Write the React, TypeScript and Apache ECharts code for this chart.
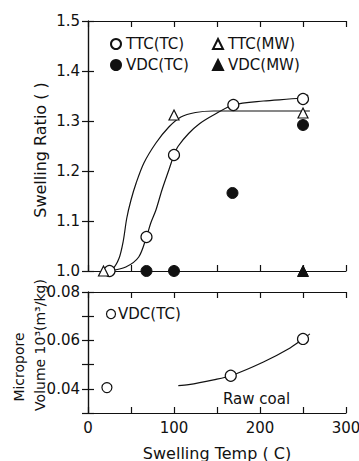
import React, { useEffect, useRef } from "react";
import * as echarts from "echarts";

// ---- data ----
const ttcTC: [number, number][] = [[25, 1.0], [68, 1.068], [100, 1.232], [169, 1.332], [250, 1.344]];
const ttcMW: [number, number][] = [[18, 1.0], [100, 1.312], [250, 1.316]];
const vdcTC: [number, number][] = [[68, 1.0], [100, 1.0], [168, 1.156], [250, 1.292]];
const vdcMW: [number, number][] = [[250, 1.0]];

const ttcMWCurve: [number, number][] = [
  [20, 1.0], [28, 1.003], [36, 1.025], [41, 1.06], [45, 1.105], [50, 1.142], [56, 1.176],
  [65, 1.216], [79, 1.256], [94, 1.288], [108, 1.308], [125, 1.317], [146, 1.32], [258, 1.32],
];
const ttcTCCurve: [number, number][] = [
  [25, 1.0], [44, 1.008], [59, 1.028], [68, 1.068], [73, 1.096], [79, 1.122], [86, 1.162],
  [94, 1.202], [100, 1.232], [105, 1.25], [117, 1.275], [130, 1.295], [146, 1.312],
  [169, 1.332], [204, 1.34], [247, 1.346], [256, 1.352],
];

const microVDC: [number, number][] = [[166, 0.0454], [250, 0.0606]];
const rawCoal: [number, number][] = [[22, 0.0405]];
const microCurve: [number, number][] = [
  [105, 0.0413], [117, 0.0417], [146, 0.0437], [166, 0.0454], [204, 0.0511], [235, 0.0569],
  [250, 0.0606], [258, 0.0627],
];

const FONT = "DejaVu Sans";
const BLACK = "#111";

export default function App() {
  const ref = useRef<HTMLDivElement>(null);
  useEffect(() => {
    if (!ref.current) return;
    const chart = echarts.init(ref.current, null, { renderer: "svg" });
    const axisLine = { show: true, lineStyle: { color: BLACK, width: 1.2 } };
    const tick = { show: true, inside: true, length: 6, lineStyle: { color: BLACK, width: 1.2 } };
    const baseX = (grid: number, pos: "bottom" | "top", labels: boolean) => ({
      type: "value",
      gridIndex: grid,
      position: pos,
      min: 0,
      max: 300,
      interval: 50,
      axisLine,
      axisTick: tick,
      splitLine: { show: false },
      axisLabel: labels
        ? {
            show: true,
            margin: 7,
            color: BLACK,
            fontFamily: FONT,
            fontSize: 15,
            formatter: (v: number) => (Math.round(v) % 100 === 0 ? String(Math.round(v)) : ""),
          }
        : { show: false },
    });
    const openStyle = { color: "#fff", borderColor: BLACK, borderWidth: 1.2, opacity: 1 };
    const fillStyle = { color: BLACK, borderColor: BLACK, borderWidth: 1, opacity: 1 };
    const curveStyle = { color: BLACK, width: 1.2 };

    chart.setOption({
      animation: false,
      backgroundColor: "#fff",
      textStyle: { fontFamily: FONT, color: BLACK },
      grid: [
        { left: 88, top: 21, width: 258, height: 250, containLabel: false, outerBoundsMode: "none" },
        { left: 88, top: 292, width: 258, height: 121, containLabel: false, outerBoundsMode: "none" },
      ],
      xAxis: [baseX(0, "bottom", false), baseX(0, "top", false), baseX(1, "bottom", true), baseX(1, "top", false)],
      yAxis: [
        {
          type: "value", gridIndex: 0, position: "left", min: 1.0, max: 1.5, interval: 0.1,
          axisLine, axisTick: tick, splitLine: { show: false },
          axisLabel: { margin: 8, color: BLACK, fontFamily: FONT, fontSize: 15, formatter: (v: number) => v.toFixed(1) },
        },
        {
          type: "value", gridIndex: 0, position: "right", min: 1.0, max: 1.5, interval: 0.1,
          axisLine, axisTick: tick, splitLine: { show: false }, axisLabel: { show: false },
        },
        {
          type: "value", gridIndex: 1, position: "left", min: 0.03, max: 0.08, interval: 0.01,
          axisLine, axisTick: tick, splitLine: { show: false },
          axisLabel: {
            margin: 8, color: BLACK, fontFamily: FONT, fontSize: 15,
            formatter: (v: number) => {
              const k = Math.round(v * 100);
              return k >= 4 && k % 2 === 0 ? v.toFixed(2) : "";
            },
          },
        },
        {
          type: "value", gridIndex: 1, position: "right", min: 0.03, max: 0.08, interval: 0.01,
          axisLine, axisTick: tick, splitLine: { show: false }, axisLabel: { show: false },
        },
      ],
      legend: [
        {
          left: 110, top: 36, orient: "vertical", padding: 0, itemGap: 5, itemWidth: 10, itemHeight: 10,
          selectedMode: false, data: ["TTC(TC)", "VDC(TC)"],
          textStyle: { color: BLACK, fontFamily: FONT, fontSize: 15, lineHeight: 16 },
        },
        {
          left: 212, top: 36, orient: "vertical", padding: 0, itemGap: 5, itemWidth: 10, itemHeight: 10,
          selectedMode: false, data: ["TTC(MW)", "VDC(MW)"],
          textStyle: { color: BLACK, fontFamily: FONT, fontSize: 15, lineHeight: 16 },
        },
      ],
      series: [
        { type: "line", name: "TTC(MW) fit", xAxisIndex: 0, yAxisIndex: 0, data: ttcMWCurve, smooth: 0.3, showSymbol: false, symbol: "none", lineStyle: curveStyle, z: 1 },
        { type: "line", name: "TTC(TC) fit", xAxisIndex: 0, yAxisIndex: 0, data: ttcTCCurve, smooth: 0.3, showSymbol: false, symbol: "none", lineStyle: curveStyle, z: 1 },
        { type: "scatter", name: "TTC(TC)", xAxisIndex: 0, yAxisIndex: 0, data: ttcTC, symbol: "circle", symbolSize: 11, itemStyle: openStyle, z: 3 },
        { type: "scatter", name: "TTC(MW)", xAxisIndex: 0, yAxisIndex: 0, data: ttcMW, symbol: "triangle", symbolSize: 10, itemStyle: openStyle, z: 3 },
        { type: "scatter", name: "VDC(TC)", xAxisIndex: 0, yAxisIndex: 0, data: vdcTC, symbol: "circle", symbolSize: 11, itemStyle: fillStyle, z: 3 },
        { type: "scatter", name: "VDC(MW)", xAxisIndex: 0, yAxisIndex: 0, data: vdcMW, symbol: "triangle", symbolSize: 11, itemStyle: fillStyle, z: 3 },
        { type: "line", name: "Micropore fit", xAxisIndex: 2, yAxisIndex: 2, data: microCurve, smooth: 0.3, showSymbol: false, symbol: "none", lineStyle: curveStyle, z: 1 },
        { type: "scatter", name: "VDC(TC) micropore", xAxisIndex: 2, yAxisIndex: 2, data: microVDC, symbol: "circle", symbolSize: 11, itemStyle: openStyle, z: 3 },
        { type: "scatter", name: "Raw coal", xAxisIndex: 2, yAxisIndex: 2, data: rawCoal, symbol: "circle", symbolSize: 10, itemStyle: openStyle, z: 3 },
      ],
      graphic: [
        {
          type: "text", x: 40, y: 150, rotation: Math.PI / 2,
          style: { text: "Swelling Ratio ( )", fontFamily: FONT, fontSize: 16, fill: BLACK, align: "center", verticalAlign: "middle" },
        },
        {
          type: "text", x: 19, y: 367, rotation: Math.PI / 2,
          style: { text: "Micropore", fontFamily: FONT, fontSize: 14, fill: BLACK, align: "center", verticalAlign: "middle" },
        },
        {
          type: "text", x: 40, y: 345, rotation: Math.PI / 2,
          style: { text: "Volume 10³(m³/kg)", fontFamily: FONT, fontSize: 14, fill: BLACK, align: "center", verticalAlign: "middle" },
        },
        {
          type: "text", x: 217, y: 453,
          style: { text: "Swelling Temp ( C)", fontFamily: FONT, fontSize: 16, fill: BLACK, align: "center", verticalAlign: "middle" },
        },
        {
          type: "text", x: 223, y: 399,
          style: { text: "Raw coal", fontFamily: FONT, fontSize: 15, fill: BLACK, align: "left", verticalAlign: "middle" },
        },
        {
          type: "circle", shape: { cx: 111, cy: 314, r: 4.5 },
          style: { fill: "#fff", stroke: BLACK, lineWidth: 1.2 },
        },
        {
          type: "text", x: 118, y: 314,
          style: { text: "VDC(TC)", fontFamily: FONT, fontSize: 15, fill: BLACK, align: "left", verticalAlign: "middle" },
        },
      ],
    });
    return () => chart.dispose();
  }, []);
  return (
    <div
      ref={ref}
      style={{ position: "absolute", left: 0, top: 0, width: 359, height: 461, background: "#fff" }}
    />
  );
}
